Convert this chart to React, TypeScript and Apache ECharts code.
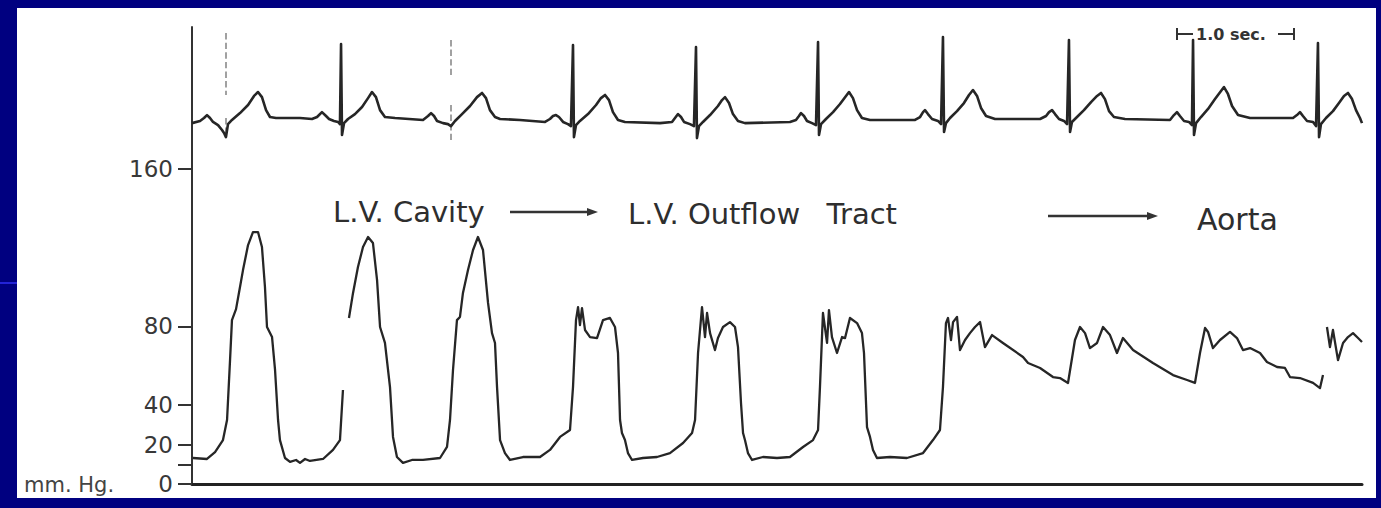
import React, { useEffect, useRef } from "react";
import * as echarts from "echarts";

// y axis (mm Hg) ticks and labels
const yTickValues = [0, 10, 20, 40, 80, 160];
const yLabelValues = [0, 20, 40, 80, 160];

// ECG trace: [time (s), display units on the same scale]
const ecgTrace: [number, number][] = [
  [0, 183.2], [0.067, 184.3], [0.1, 185.8], [0.125, 187.3], [0.15, 185.8], [0.175, 183.8],
  [0.217, 182.2], [0.25, 179.7], [0.267, 178.2], [0.283, 176.1], [0.3, 182.7], [0.333, 184.8],
  [0.4, 188.3], [0.467, 192.4], [0.517, 197.0], [0.55, 199.0], [0.583, 196.4], [0.617, 189.8],
  [0.65, 186.3], [0.7, 185.8], [0.9, 185.8], [1.0, 185.3], [1.042, 186.3], [1.083, 188.8],
  [1.117, 186.8], [1.142, 185.3], [1.183, 184.3], [1.217, 183.8], [1.233, 182.7], [1.242, 223.4],
  [1.25, 177.2], [1.267, 183.2], [1.3, 185.3], [1.358, 187.8], [1.417, 191.4], [1.467, 195.9],
  [1.5, 199.0], [1.533, 196.4], [1.567, 189.8], [1.608, 186.3], [1.692, 185.8], [1.925, 184.8],
  [1.967, 186.8], [1.992, 188.3], [2.017, 186.8], [2.042, 184.3], [2.092, 183.2], [2.133, 182.7],
  [2.158, 181.7], [2.192, 184.3], [2.25, 187.8], [2.317, 191.9], [2.375, 196.4], [2.417, 198.5],
  [2.45, 195.9], [2.483, 189.8], [2.525, 186.3], [2.567, 185.3], [2.733, 184.8], [2.942, 183.8],
  [2.983, 185.3], [3.008, 186.8], [3.033, 187.3], [3.058, 186.3], [3.092, 183.8], [3.133, 182.7],
  [3.158, 181.7], [3.175, 222.8], [3.183, 176.1], [3.2, 182.2], [3.233, 184.3], [3.3, 187.8],
  [3.367, 192.4], [3.408, 195.9], [3.442, 197.5], [3.475, 194.9], [3.508, 188.8], [3.55, 184.8],
  [3.608, 183.8], [3.9, 183.2], [4.0, 183.8], [4.025, 185.8], [4.05, 187.8], [4.075, 186.3],
  [4.1, 183.8], [4.15, 182.7], [4.183, 181.7], [4.2, 221.8], [4.208, 175.6], [4.225, 181.7],
  [4.258, 183.8], [4.317, 187.3], [4.383, 191.9], [4.417, 194.9], [4.442, 196.4], [4.475, 193.4],
  [4.508, 187.8], [4.55, 184.3], [4.608, 183.2], [4.983, 183.8], [5.033, 184.8], [5.058, 186.8],
  [5.075, 188.3], [5.1, 186.8], [5.125, 184.3], [5.167, 183.2], [5.2, 182.2], [5.217, 224.4],
  [5.225, 177.2], [5.242, 182.7], [5.283, 185.3], [5.342, 188.8], [5.4, 192.9], [5.45, 197.0],
  [5.475, 199.0], [5.508, 195.9], [5.542, 189.8], [5.583, 185.8], [5.65, 184.8], [6.025, 184.8],
  [6.067, 186.3], [6.092, 188.8], [6.108, 189.8], [6.133, 187.8], [6.167, 185.3], [6.217, 184.3],
  [6.242, 182.7], [6.258, 226.9], [6.267, 178.7], [6.283, 183.2], [6.317, 185.8], [6.375, 189.3],
  [6.433, 193.4], [6.475, 197.5], [6.508, 200.0], [6.542, 197.0], [6.575, 190.9], [6.617, 186.8],
  [6.692, 185.3], [7.067, 185.3], [7.117, 186.8], [7.142, 188.8], [7.167, 189.8], [7.192, 187.8],
  [7.225, 185.3], [7.267, 184.3], [7.292, 182.7], [7.308, 225.4], [7.317, 178.7], [7.333, 183.8],
  [7.375, 186.3], [7.433, 189.8], [7.492, 193.9], [7.542, 197.0], [7.575, 198.5], [7.608, 195.4],
  [7.642, 189.3], [7.683, 186.3], [7.775, 185.3], [8.15, 184.8], [8.183, 187.3], [8.208, 188.8],
  [8.233, 186.8], [8.267, 184.3], [8.308, 183.8], [8.333, 182.2], [8.342, 225.4], [8.35, 177.2],
  [8.367, 183.2], [8.408, 186.3], [8.467, 190.4], [8.525, 195.4], [8.575, 199.5], [8.6, 201.5],
  [8.633, 198.0], [8.667, 191.9], [8.717, 187.3], [8.817, 185.8], [9.175, 185.8], [9.208, 187.3],
  [9.233, 188.8], [9.258, 186.8], [9.292, 184.3], [9.342, 183.8], [9.367, 181.7], [9.383, 223.9],
  [9.392, 176.1], [9.408, 182.7], [9.45, 185.8], [9.508, 189.3], [9.558, 193.4], [9.6, 197.0],
  [9.633, 198.5], [9.667, 195.4], [9.7, 189.8], [9.733, 185.8], [9.75, 183.2],
];

// Pacing artifacts on the ECG (dashed): time, upper segment, lower segment
const pacingTimes = [0.283, 2.158];
const pacingUpper: [number, number][] = [[228.9, 197.5], [225.4, 207.6]];
const pacingLower: [number, number][] = [[185.8, 176.1], [192.4, 174.6]];

// Pressure (mm Hg) – pen segments
const pressureSegment1: [number, number][] = [
  [0.008, 13.2], [0.125, 12.7], [0.192, 16.2], [0.258, 22.3], [0.292, 32.5], [0.317, 62.9],
  [0.333, 83.2], [0.367, 88.8], [0.4, 100.0], [0.425, 108.6], [0.467, 121.3], [0.508, 127.9],
  [0.55, 127.9], [0.583, 120.3], [0.608, 100.0], [0.625, 79.7], [0.667, 74.6], [0.692, 57.9],
  [0.717, 32.5], [0.733, 22.3], [0.775, 13.2], [0.817, 11.2], [0.867, 12.2], [0.9, 10.7],
  [0.942, 12.7], [0.983, 11.7], [1.092, 12.7], [1.175, 17.3], [1.233, 22.3], [1.258, 47.7],
];
const pressureSegment2: [number, number][] = [
  [1.308, 84.3], [1.342, 97.0], [1.383, 110.2], [1.425, 120.3], [1.467, 125.4], [1.508, 122.3],
  [1.542, 103.6], [1.567, 79.7], [1.608, 71.6], [1.65, 49.2], [1.675, 23.9], [1.708, 13.7],
  [1.758, 10.7], [1.833, 12.2], [1.925, 12.2], [2.067, 13.2], [2.125, 18.8], [2.15, 32.5],
  [2.175, 57.9], [2.208, 83.2], [2.233, 84.8], [2.258, 97.0], [2.3, 108.6], [2.342, 118.8],
  [2.383, 125.4], [2.425, 118.8], [2.467, 91.9], [2.5, 76.6], [2.525, 71.6], [2.542, 49.2],
  [2.567, 22.3], [2.608, 15.7], [2.65, 12.2], [2.758, 13.7], [2.9, 13.7], [2.983, 17.3],
  [3.067, 23.9], [3.15, 27.4], [3.175, 49.2], [3.2, 83.2], [3.217, 89.8], [3.233, 80.7],
  [3.25, 89.3], [3.275, 78.2], [3.317, 74.6], [3.375, 74.1], [3.425, 83.2], [3.483, 84.3],
  [3.525, 79.7], [3.55, 66.5], [3.567, 32.5], [3.583, 25.9], [3.608, 22.3], [3.633, 15.7],
  [3.667, 12.2], [3.758, 13.2], [3.875, 13.7], [3.983, 15.7], [4.092, 20.8], [4.167, 25.9],
  [4.192, 32.5], [4.217, 66.5], [4.25, 89.8], [4.275, 74.6], [4.292, 86.8], [4.317, 76.6],
  [4.358, 68.0], [4.383, 74.1], [4.425, 79.7], [4.483, 82.2], [4.525, 79.7], [4.55, 69.5],
  [4.575, 41.1], [4.592, 25.9], [4.608, 22.3], [4.633, 15.7], [4.667, 12.2], [4.758, 13.7],
  [4.875, 13.2], [4.983, 13.7], [5.092, 18.8], [5.175, 22.3], [5.217, 27.4], [5.233, 49.2],
  [5.258, 86.8], [5.292, 71.6], [5.308, 88.3], [5.333, 74.6], [5.375, 66.5], [5.417, 74.6],
  [5.442, 74.1], [5.483, 84.3], [5.542, 81.7], [5.583, 76.6], [5.6, 66.5], [5.625, 28.9],
  [5.65, 23.9], [5.675, 17.3], [5.708, 13.2], [5.817, 13.7], [5.958, 13.2], [6.092, 15.7],
  [6.175, 22.3], [6.233, 27.4], [6.258, 49.2], [6.283, 81.7], [6.3, 84.3], [6.325, 73.1],
  [6.342, 82.2], [6.375, 84.8], [6.4, 68.0], [6.442, 73.1], [6.483, 76.6], [6.525, 79.7],
  [6.567, 82.2], [6.608, 69.5], [6.667, 75.6], [6.758, 71.6], [6.925, 64.5], [6.967, 61.4],
  [7.067, 58.9], [7.175, 54.3], [7.233, 53.8], [7.3, 51.3], [7.358, 73.1], [7.4, 79.7],
  [7.442, 76.6], [7.483, 69.0], [7.542, 71.6], [7.592, 79.7], [7.65, 75.6], [7.708, 66.5],
  [7.758, 74.1], [7.842, 68.0], [8.008, 61.4], [8.175, 55.3], [8.292, 52.8], [8.358, 51.3],
  [8.4, 66.5], [8.442, 79.2], [8.467, 77.2], [8.508, 69.0], [8.567, 73.1], [8.65, 77.2],
  [8.708, 74.1], [8.758, 68.0], [8.817, 69.0], [8.9, 66.5], [8.958, 61.9], [9.042, 59.4],
  [9.108, 58.9], [9.15, 54.3], [9.233, 53.8], [9.342, 51.3], [9.4, 48.7], [9.425, 55.3],
];
const pressureSegment3: [number, number][] = [
  [9.458, 79.7], [9.483, 69.5], [9.508, 78.2], [9.55, 62.9], [9.592, 71.6], [9.633, 74.6],
  [9.675, 76.6], [9.717, 74.1], [9.75, 72.1],
];

const siteLabels = ["L.V. Cavity", "L.V. Outflow", "Tract", "Aorta"];
const unitLabel = "mm. Hg.";
const scaleBarLabel = "1.0 sec.";

const NAVY = "#000080";
const INK = "#262626";
const FONT = '"DejaVu Sans", sans-serif';

function lineSeries(data: [number, number][], width: number) {
  return {
    type: "line",
    data,
    showSymbol: false,
    symbol: "none",
    silent: true,
    lineStyle: { color: INK, width, join: "round" },
  };
}

function text(str: string, x: number, y: number, font: string, fill = "#2e2e2e", align = "left") {
  return {
    type: "text",
    x,
    y,
    silent: true,
    style: {
      text: str,
      font,
      fill,
      align,
      verticalAlign: "middle",
      textAlign: align,
      textVerticalAlign: "middle",
    },
  };
}

function seg(x1: number, y1: number, x2: number, y2: number, width = 2.5) {
  return {
    type: "line",
    silent: true,
    shape: { x1, y1, x2, y2 },
    style: { stroke: "#333", lineWidth: width },
  };
}

function arrowHead(tipX: number, y: number) {
  return {
    type: "polygon",
    silent: true,
    shape: { points: [[tipX - 11, y - 4], [tipX, y], [tipX - 11, y + 4]] },
    style: { fill: "#333" },
  };
}

export default function App() {
  const ref = useRef<HTMLDivElement>(null);

  useEffect(() => {
    document.documentElement.style.margin = "0";
    document.documentElement.style.padding = "0";
    document.body.style.margin = "0";
    document.body.style.padding = "0";
    document.body.style.overflow = "hidden";
    if (!ref.current) return;
    const chart = echarts.init(ref.current, null, { renderer: "svg" });

    const pacingData = pacingTimes.flatMap((t, i) => [
      { coords: [[t, pacingUpper[i][0]], [t, pacingUpper[i][1]]] },
      { coords: [[t, pacingLower[i][0]], [t, pacingLower[i][1]]] },
    ]);

    const option: any = {
      animation: false,
      backgroundColor: "#ffffff",
      tooltip: { show: false },
      grid: { left: 192, right: 19, top: 27, bottom: 24, containLabel: false },
      xAxis: {
        type: "value",
        min: 0,
        max: 9.75,
        axisLine: { show: true, onZero: false, lineStyle: { color: "#222", width: 3 } },
        axisTick: { show: false },
        axisLabel: { show: false },
        splitLine: { show: false },
      },
      yAxis: {
        type: "value",
        min: 0,
        max: 232,
        axisLine: { show: true, lineStyle: { color: "#333", width: 2 } },
        axisTick: {
          show: true,
          length: 14,
          customValues: yTickValues,
          lineStyle: { color: "#333", width: 2 },
        },
        axisLabel: {
          customValues: yLabelValues,
          margin: 19,
          color: "#383838",
          fontSize: 23,
          fontFamily: FONT,
        },
        splitLine: { show: false },
      },
      series: [
        lineSeries(ecgTrace, 2.6),
        lineSeries(pressureSegment1, 2.3),
        lineSeries(pressureSegment2, 2.3),
        lineSeries(pressureSegment3, 2.3),
        {
          type: "lines",
          coordinateSystem: "cartesian2d",
          silent: true,
          data: pacingData,
          lineStyle: { color: "#8a8a8a", width: 1.6, type: "dashed", opacity: 1 },
        },
      ],
      graphic: [
        { type: "rect", silent: true, shape: { x: 0, y: 0, width: 1381, height: 8 }, style: { fill: NAVY } },
        { type: "rect", silent: true, shape: { x: 0, y: 498, width: 1381, height: 10 }, style: { fill: NAVY } },
        { type: "rect", silent: true, shape: { x: 0, y: 0, width: 17, height: 508 }, style: { fill: NAVY } },
        { type: "rect", silent: true, shape: { x: 1376, y: 0, width: 5, height: 508 }, style: { fill: NAVY } },
        { type: "rect", silent: true, shape: { x: 0, y: 282, width: 17, height: 2 }, style: { fill: "#2323d6" } },
        text(siteLabels[0], 333, 212, `29px ${FONT}`),
        text(siteLabels[1], 628, 214, `29px ${FONT}`),
        text(siteLabels[2], 897, 214, `29px ${FONT}`, "#2e2e2e", "right"),
        text(siteLabels[3], 1197, 219, `30px ${FONT}`),
        seg(510, 212, 590, 212),
        arrowHead(598, 212),
        seg(1048, 216, 1150, 216),
        arrowHead(1158, 216),
        text(unitLabel, 24, 485, `21px ${FONT}`, "#444"),
        seg(1177, 28, 1177, 40, 2),
        seg(1177, 34, 1193, 34, 2),
        text(scaleBarLabel, 1196, 34, `bold 16px ${FONT}`, "#333"),
        seg(1278, 34, 1294, 34, 2),
        seg(1294, 28, 1294, 40, 2),
      ],
    };

    chart.setOption(option);
    return () => chart.dispose();
  }, []);

  return (
    <div
      ref={ref}
      style={{ display: "block", width: 1381, height: 508, margin: 0, padding: 0 }}
    />
  );
}
